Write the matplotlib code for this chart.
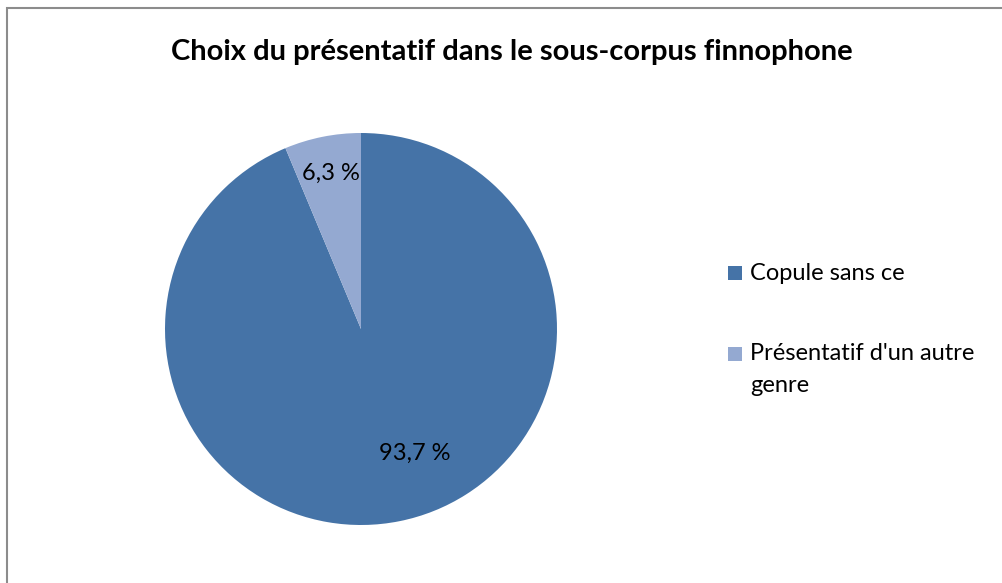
import matplotlib.pyplot as plt
from matplotlib.patches import Rectangle

# données
categories = ['Copule sans ce', "Présentatif d'un autre\ngenre"]
values = [93.7, 6.3]
pct_labels = ['93,7 %', '6,3 %']
colors = ['#4573A7', '#94A9D1']

plt.rcParams['font.family'] = ['Lato', 'DejaVu Sans']

W, H = 1003, 583
fig = plt.figure(figsize=(W / 100, H / 100), dpi=100)
fig.patches.append(Rectangle((7 / W, -0.1), 1.2, 1.1 - 8 / H, transform=fig.transFigure,
                             fill=False, edgecolor='#8c8c8c', linewidth=1.5))

fig.text(0.51, 1 - 52 / H, 'Choix du présentatif dans le sous-corpus finnophone',
         ha='center', va='center', fontsize=21, fontweight='bold')

ax = fig.add_axes([165 / W, 58 / H, 392 / W, 392 / H])
wedges, texts = ax.pie(values, colors=colors, startangle=90, counterclock=False,
                       radius=1, labels=pct_labels, labeldistance=0.8,
                       textprops={'fontsize': 17, 'ha': 'center', 'va': 'center'})
# position des étiquettes comme dans Excel
texts[0].set_position((0.276, -0.633))
texts[1].set_position((-0.155, 0.795))
ax.set_xlim(-1, 1)
ax.set_ylim(-1, 1)
ax.set_aspect('equal')

# légende (à la manière d'Excel : carré aligné sur la première ligne)
entry_y = [273, 354]
line_h = 32
sq = 14
for y, lab, c in zip(entry_y, categories, colors):
    fig.patches.append(Rectangle((728 / W, 1 - (y + sq / 2) / H), sq / W, sq / H,
                                 transform=fig.transFigure, facecolor=c, edgecolor='none'))
    for i, line in enumerate(lab.split('\n')):
        fig.text(750 / W, 1 - (y + i * line_h) / H, line, ha='left', va='center', fontsize=17)

plt.savefig('out.png', dpi=100)
